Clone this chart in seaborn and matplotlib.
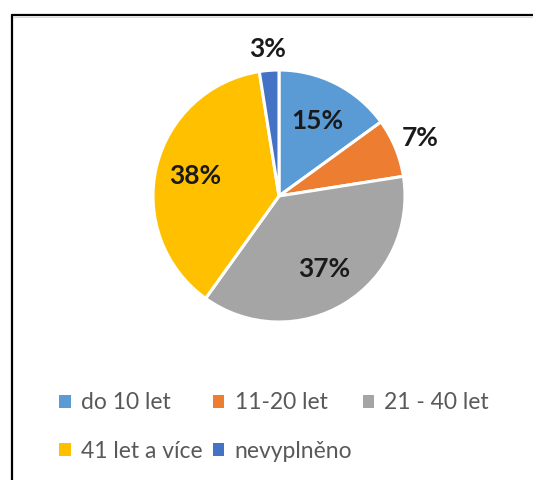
import numpy as np
import matplotlib
matplotlib.use("Agg")
import matplotlib.pyplot as plt
from matplotlib.lines import Line2D
from matplotlib.patches import Patch
import seaborn as sns

categories = ["do 10 let", "11-20 let", "21 - 40 let", "41 let a více", "nevyplněno"]
shares = [15.0, 7.5, 37.4, 37.6, 2.5]
pct_labels = ["15%", "7%", "37%", "38%", "3%"]
colors = ["#5B9BD5", "#ED7D31", "#A5A5A5", "#FFC000", "#4472C4"]
label_dist = [0.67, 1.21, 0.68, 0.68, 1.17]

sns.set_theme(style="white")
plt.rcParams['font.family'] = ['Lato', 'DejaVu Sans']

fig = plt.figure(figsize=(5.33, 4.8), dpi=100)
W, H = 533, 480
cx, cy, r = 279, 196, 126
ax = fig.add_axes([(cx - r) / W, (H - cy - r) / H, 2 * r / W, 2 * r / H])

wedges, _ = ax.pie(shares, colors=colors, startangle=90, counterclock=False,
                   wedgeprops=dict(edgecolor="white", linewidth=2.2, clip_on=False))
ax.set_xlim(-1, 1)
ax.set_ylim(-1, 1)
ax.axis("off")

# labels at each wedge's mid angle
for w, lab, d in zip(wedges, pct_labels, label_dist):
    ang = np.deg2rad((w.theta1 + w.theta2) / 2)
    ax.text(d * np.cos(ang), d * np.sin(ang), lab, ha="center", va="center",
            fontsize=19, fontweight="bold", color="#1a1a1a", clip_on=False)

# legend, row-major order across 3 columns
handles = [Patch(facecolor=c, edgecolor="none") for c in colors]
order = [0, 3, 1, 4, 2]
fig.legend([handles[i] for i in order], [categories[i] for i in order],
           ncol=3, loc="upper left", bbox_to_anchor=(50 / W, 1 - 383 / H),
           frameon=False, fontsize=16.5, labelcolor="#595959",
           handlelength=0.5, handleheight=0.5, handletextpad=0.45,
           columnspacing=0.45, labelspacing=1.2, borderaxespad=0)

# chart frame (left and top edges)
fig.add_artist(Line2D([11.5 / W, 11.5 / W], [0, 1 - 14.5 / H], color="black", lw=1.6))
fig.add_artist(Line2D([11.5 / W, 1], [1 - 14.5 / H, 1 - 14.5 / H], color="black", lw=1.6))
fig.add_artist(Line2D([13 / W, 1], [1 - 17 / H, 1 - 17 / H], color="#d9d9d9", lw=0.8))

fig.savefig("out.png", dpi=100)
